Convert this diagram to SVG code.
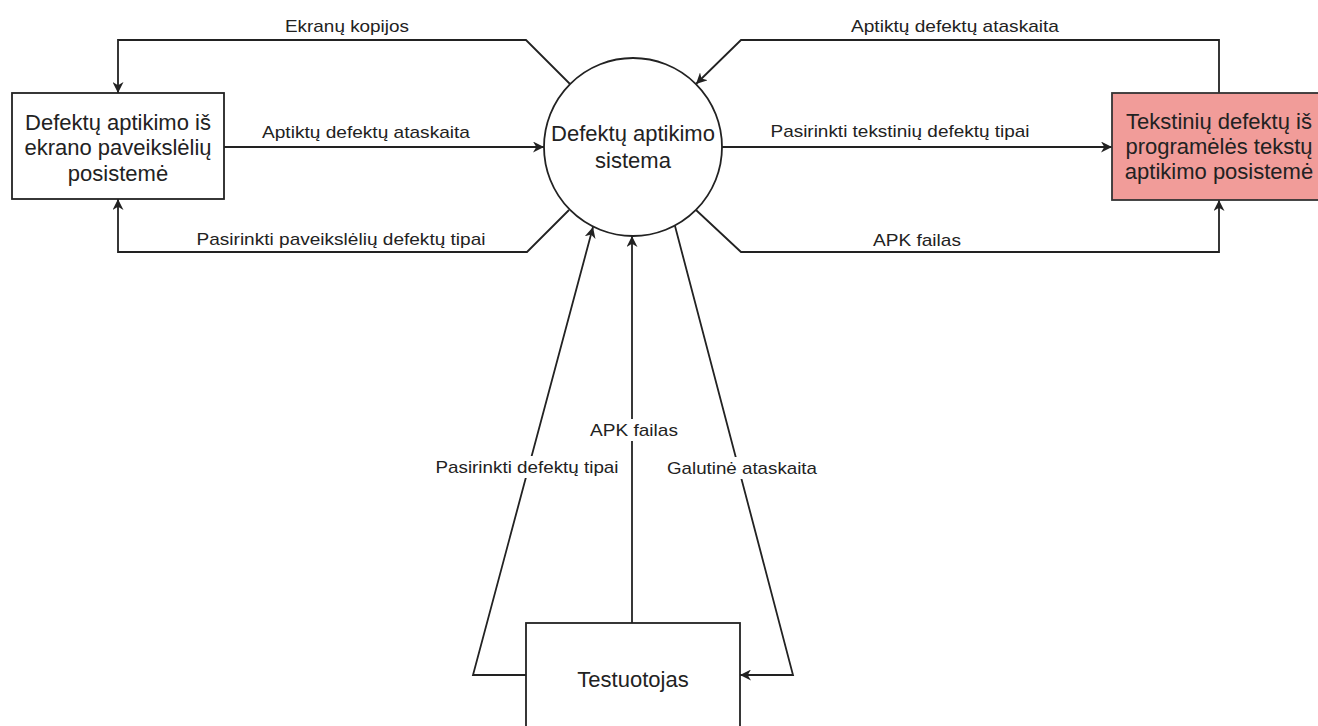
<svg xmlns="http://www.w3.org/2000/svg" width="1318" height="726" viewBox="0 0 1318 726">
  <style>
    .box { fill: #ffffff; stroke: #222222; stroke-width: 1.8; }
    .box-alert { fill: #f19c99; stroke: #333333; stroke-width: 1.8; }
    .proc { fill: #ffffff; stroke: #222222; stroke-width: 1.8; }
    .node-text { font-family: "Liberation Sans", Arial, sans-serif; font-size: 22px; fill: #222222; text-anchor: middle; dominant-baseline: central; }
    .flow { fill: none; stroke: #222222; stroke-width: 1.8; }
    .label { font-family: "Liberation Sans", Arial, sans-serif; font-size: 17px; fill: #222222; text-anchor: middle; dominant-baseline: central; }
    .label-bg { fill: #ffffff; }
  </style>
  <defs>
    <marker id="arrow" viewBox="0 0 10 10" refX="10" refY="5" markerWidth="11" markerHeight="11" markerUnits="userSpaceOnUse" orient="auto">
      <path d="M0,0 L10,5 L0,10 L3,5 Z" fill="#222222"/>
    </marker>
  </defs>
  <rect width="1318" height="726" fill="#ffffff"/>

  <!-- data flows -->
  <g id="connectors">
    <path class="flow" d="M570,84 L526,40 L118,40 L118,93" marker-end="url(#arrow)"/>
    <path class="flow" d="M224,147 L544,147" marker-end="url(#arrow)"/>
    <path class="flow" d="M569,210 L527,252 L118,252 L118,199" marker-end="url(#arrow)"/>
    <path class="flow" d="M1219,93 L1219,40 L741,40 L696,84" marker-end="url(#arrow)"/>
    <path class="flow" d="M722,147 L1112,147" marker-end="url(#arrow)"/>
    <path class="flow" d="M696,210 L741,252 L1219,252 L1219,200" marker-end="url(#arrow)"/>
    <path class="flow" d="M526,675 L473,675 L593,227" marker-end="url(#arrow)"/>
    <path class="flow" d="M632,623 L632,236" marker-end="url(#arrow)"/>
    <path class="flow" d="M675,226 L793,675 L740,675" marker-end="url(#arrow)"/>

    <text class="label" x="347" y="26" textLength="124" lengthAdjust="spacingAndGlyphs">Ekranų kopijos</text>
    <text class="label" x="366" y="132" textLength="208" lengthAdjust="spacingAndGlyphs">Aptiktų defektų ataskaita</text>
    <text class="label" x="341" y="239" textLength="289" lengthAdjust="spacingAndGlyphs">Pasirinkti paveikslėlių defektų tipai</text>
    <text class="label" x="955" y="26" textLength="208" lengthAdjust="spacingAndGlyphs">Aptiktų defektų ataskaita</text>
    <text class="label" x="900" y="131" textLength="259" lengthAdjust="spacingAndGlyphs">Pasirinkti tekstinių defektų tipai</text>
    <text class="label" x="917" y="240" textLength="88" lengthAdjust="spacingAndGlyphs">APK failas</text>

    <rect class="label-bg" x="588" y="419" width="92" height="22"/>
    <text class="label" x="634" y="430" textLength="88" lengthAdjust="spacingAndGlyphs">APK failas</text>
    <rect class="label-bg" x="433" y="456" width="187" height="22"/>
    <text class="label" x="527" y="467" textLength="183" lengthAdjust="spacingAndGlyphs">Pasirinkti defektų tipai</text>
    <rect class="label-bg" x="665" y="457" width="154" height="22"/>
    <text class="label" x="742" y="468" textLength="150" lengthAdjust="spacingAndGlyphs">Galutinė ataskaita</text>
  </g>

  <!-- image defect subsystem -->
  <g id="image-subsystem">
    <rect class="box" x="12" y="93" width="212" height="106"/>
    <text class="node-text" x="118" y="122">Defektų aptikimo iš</text>
    <text class="node-text" x="118" y="147">ekrano paveikslėlių</text>
    <text class="node-text" x="118" y="173">posistemė</text>
  </g>

  <!-- central process -->
  <g id="detection-system">
    <circle class="proc" cx="633" cy="147" r="89"/>
    <text class="node-text" x="633" y="133">Defektų aptikimo</text>
    <text class="node-text" x="633" y="160">sistema</text>
  </g>

  <!-- text defect subsystem -->
  <g id="text-subsystem">
    <rect class="box-alert" x="1112" y="93" width="216" height="107"/>
    <text class="node-text" x="1219" y="121">Tekstinių defektų iš</text>
    <text class="node-text" x="1219" y="146">programėlės tekstų</text>
    <text class="node-text" x="1219" y="171">aptikimo posistemė</text>
  </g>

  <!-- tester -->
  <g id="tester">
    <rect class="box" x="526" y="623" width="214" height="110"/>
    <text class="node-text" x="633" y="679">Testuotojas</text>
  </g>
</svg>
